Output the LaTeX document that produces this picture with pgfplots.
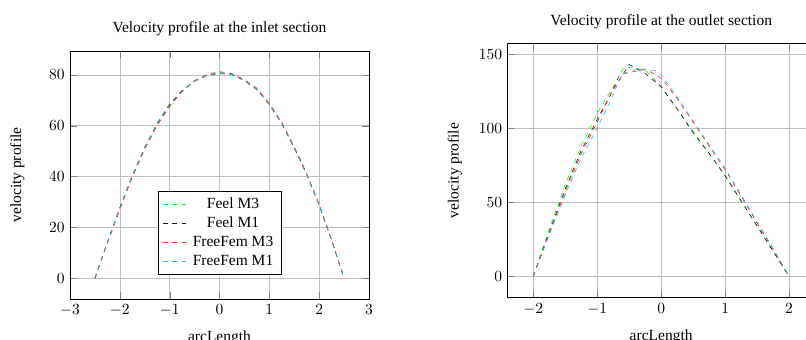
\documentclass[border=0pt]{standalone}
\usepackage{fontspec}
\setmainfont{Liberation Serif}
\usepackage{pgfplots}
\pgfplotsset{compat=1.18}
\definecolor{cG}{rgb}{0.1,0.95,0.1}
\definecolor{cK}{rgb}{0.1,0.1,0.1}
\definecolor{cR}{rgb}{1,0.15,0.15}
\definecolor{cC}{rgb}{0.2,0.7,0.95}
\begin{document}
\begin{tikzpicture}
\useasboundingbox (0,0) rectangle (520pt,219.35pt);
\clip (0,0) rectangle (520pt,219.35pt);
\pgfplotsset{every axis/.append style={scale only axis, grid=major, anchor=south west,
  xlabel={arcLength}, ylabel={velocity profile}, tick align=inside, xlabel shift=3pt}}
\begin{axis}[at={(45.16pt,26.45pt)}, width=192.9pt, height=160pt,
  title={Velocity profile at the inlet section},
  xtick={-3,-2,-1,0,1,2,3}, ylabel shift=9pt,
  legend style={at={(0.5,0.1)}, anchor=south, font=\normalsize},
  legend cell align=center]
\addplot[dashed, cG] coordinates {(-2.5,0) (-2.25,14) (-2,27.5) (-1.75,40) (-1.5,51) (-1.25,60.5) (-1,68) (-0.75,73.5) (-0.5,77.5) (-0.25,80) (0,81) (0.25,80.3) (0.5,78) (0.75,74.5) (1,68.5) (1.25,61) (1.5,51.5) (1.75,41) (2,29) (2.25,15) (2.5,0)};
\addlegendentry{Feel M3}
\addplot[dashed, cK] coordinates {(-2.5,0) (-2.25,14.2) (-2,27.8) (-1.75,40.5) (-1.5,51.5) (-1.25,61) (-1,68.5) (-0.75,73.8) (-0.5,77.6) (-0.25,79.8) (0,80.6) (0.25,80.1) (0.5,77.8) (0.75,74.2) (1,68.4) (1.25,60.8) (1.5,51.2) (1.75,40.8) (2,28.8) (2.25,15) (2.5,0)};
\addlegendentry{Feel M1}
\addplot[dashed, cR] coordinates {(-2.5,0) (-2.25,13.8) (-2,27) (-1.75,39.8) (-1.5,50.8) (-1.25,60.2) (-1,67.6) (-0.75,73.6) (-0.5,77.8) (-0.25,80.3) (0,81.3) (0.25,80.5) (0.5,78.2) (0.75,74.8) (1,68.8) (1.25,61.3) (1.5,51.8) (1.75,41.2) (2,29.2) (2.25,15.2) (2.5,0)};
\addlegendentry{FreeFem M3}
\addplot[dashed, cC] coordinates {(-2.5,0) (-2.25,14.1) (-2,27.6) (-1.75,40.3) (-1.5,51.3) (-1.25,61.2) (-1,68.8) (-0.75,74) (-0.5,77.6) (-0.25,79.9) (0,80.8) (0.25,80.2) (0.5,77.9) (0.75,74.3) (1,68.3) (1.25,60.7) (1.5,51.3) (1.75,40.9) (2,28.9) (2.25,15) (2.5,0)};
\addlegendentry{FreeFem M1}
\end{axis}
\begin{axis}[at={(327.5pt,27.3pt)}, width=198.1pt, height=164.1pt,
  title={Velocity profile at the outlet section}, ylabel shift=4pt,
  xtick={-2,-1,0,1,2}, ytick={0,50,100,150}]
\addplot[dashed, cG] coordinates {(-2,0) (-1.75,32) (-1.5,62) (-1.25,88) (-1,110) (-0.75,128) (-0.6,140) (-0.5,141) (-0.25,139.5) (0,128) (0.25,113) (0.5,98) (0.75,83) (1,68) (1.25,51) (1.5,34) (1.75,17) (2,0)};
\addplot[dashed, cK] coordinates {(-2,0) (-1.75,30) (-1.5,59) (-1.25,85) (-1,106) (-0.75,126) (-0.5,143) (-0.25,137) (0,128) (0.25,113) (0.5,97) (0.75,83) (1,68) (1.25,51) (1.5,34) (1.75,17) (2,0)};
\addplot[dashed, cR] coordinates {(-2,0) (-1.75,29) (-1.5,57) (-1.25,83) (-1,104) (-0.8,122) (-0.65,136) (-0.5,137.5) (-0.25,140) (0,134) (0.25,120) (0.5,104) (0.75,88) (1,72) (1.25,54) (1.5,36) (1.75,18) (2,0)};
\addplot[dashed, cC] coordinates {(-2,0) (-1.75,28) (-1.5,55) (-1.25,80) (-1,100) (-0.8,118) (-0.6,137) (-0.4,139.5) (-0.1,139) (0,136) (0.25,121) (0.5,105) (0.75,89) (1,73) (1.25,55) (1.5,37) (1.75,19) (2,0)};
\end{axis}
\end{tikzpicture}
\end{document}
